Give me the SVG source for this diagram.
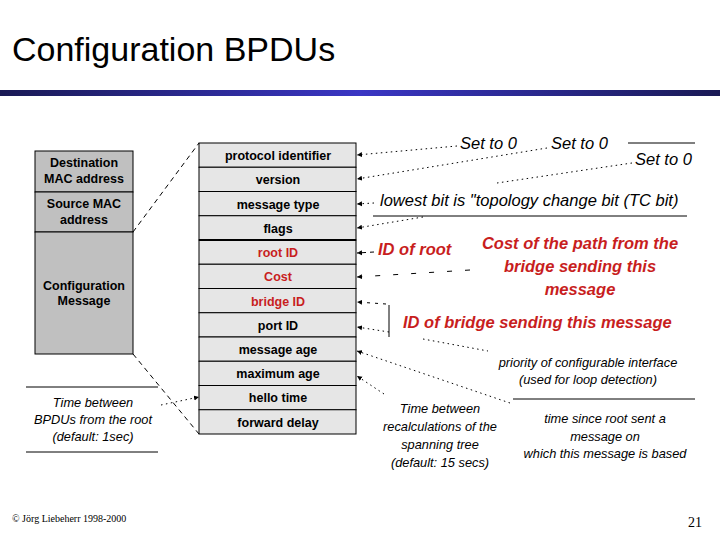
<svg xmlns="http://www.w3.org/2000/svg" width="720" height="540" viewBox="0 0 720 540">
<defs>
<linearGradient id="bar" x1="0" y1="0" x2="1" y2="0">
<stop offset="0" stop-color="#1a1a55"/>
<stop offset="0.5" stop-color="#3a36c4"/>
<stop offset="1" stop-color="#1a1a55"/>
</linearGradient>
<marker id="ah" markerWidth="6" markerHeight="6" refX="5" refY="3" orient="auto" markerUnits="userSpaceOnUse">
<path d="M0,0.5 L5,3 L0,5.5 Z" fill="#000"/>
</marker>
<style>
.t{font-family:"Liberation Sans",Arial,sans-serif;}
.title{font-size:34px;fill:#000;}
.bl{font-size:12.5px;font-weight:bold;fill:#000;text-anchor:middle;}
.red{fill:#c81e1e;}
.lg{fill:#c0c0c0;stroke:#000;stroke-width:1;}
.rg{fill:#e6e6e6;stroke:#000;stroke-width:1;}
.note{font-size:16.5px;font-style:italic;fill:#000;}
.rnote{font-size:16.5px;font-style:italic;font-weight:bold;fill:#c81e1e;}
.sm{font-size:12.8px;font-style:italic;fill:#000;text-anchor:middle;}
.rule{stroke:#000;stroke-width:1;}
.dot{fill:none;stroke:#000;stroke-width:1;stroke-dasharray:1.5 3.5;}
.dash{fill:none;stroke:#000;stroke-width:1;stroke-dasharray:5 4;}
.arr{marker-end:url(#ah);}
</style>
</defs>
<rect width="720" height="540" fill="#fff"/>
<text class="t title" x="12" y="61">Configuration BPDUs</text>
<rect x="0" y="90" width="720" height="6" fill="url(#bar)"/>

<g id="frame">
<g id="dest-mac"><rect class="lg" x="35" y="151" width="98" height="41"/><text class="t bl" x="84" y="167">Destination</text><text class="t bl" x="84" y="183">MAC address</text></g>
<g id="src-mac"><rect class="lg" x="35" y="192" width="98" height="40"/><text class="t bl" x="84" y="208">Source MAC</text><text class="t bl" x="84" y="224">address</text></g>
<g id="config-msg"><rect class="lg" x="35" y="232" width="98" height="122"/><text class="t bl" x="84" y="290">Configuration</text><text class="t bl" x="84" y="305">Message</text></g>
</g>

<g id="bpdu">
<g id="protocol-identifier"><rect class="rg" x="199" y="143" width="157" height="24.25"/><text class="t bl" x="278" y="160">protocol identifier</text></g>
<g id="version"><rect class="rg" x="199" y="167.25" width="157" height="24.25"/><text class="t bl" x="278" y="184">version</text></g>
<g id="message-type"><rect class="rg" x="199" y="191.5" width="157" height="24.25"/><text class="t bl" x="278" y="208.5">message type</text></g>
<g id="flags"><rect class="rg" x="199" y="215.75" width="157" height="24.25"/><text class="t bl" x="278" y="232.5">flags</text></g>
<g id="root-id"><rect class="rg" x="199" y="240" width="157" height="24.25"/><text class="t bl red" x="278" y="257">root ID</text></g>
<g id="cost"><rect class="rg" x="199" y="264.25" width="157" height="24.25"/><text class="t bl red" x="278" y="281">Cost</text></g>
<g id="bridge-id"><rect class="rg" x="199" y="288.5" width="157" height="24.25"/><text class="t bl red" x="278" y="305.5">bridge ID</text></g>
<g id="port-id"><rect class="rg" x="199" y="312.75" width="157" height="24.25"/><text class="t bl" x="278" y="329.5">port ID</text></g>
<g id="message-age"><rect class="rg" x="199" y="337" width="157" height="24.25"/><text class="t bl" x="278" y="354">message age</text></g>
<g id="maximum-age"><rect class="rg" x="199" y="361.25" width="157" height="24.25"/><text class="t bl" x="278" y="378">maximum age</text></g>
<g id="hello-time"><rect class="rg" x="199" y="385.5" width="157" height="24.25"/><text class="t bl" x="278" y="402">hello time</text></g>
<g id="forward-delay"><rect class="rg" x="199" y="409.75" width="157" height="24.25"/><text class="t bl" x="278" y="426.5">forward delay</text></g>
<line x1="199" y1="240" x2="356" y2="240" stroke="#000" stroke-width="2"/>
</g>

<g id="notes">
<g id="note-hello"><line class="rule" x1="26" y1="387" x2="158" y2="387"/><line class="rule" x1="26" y1="452" x2="158" y2="452"/>
<text class="t sm" x="93" y="407">Time between</text><text class="t sm" x="93" y="424">BPDUs from the root</text><text class="t sm" x="93" y="441">(default: 1sec)</text></g>
<g id="note-set0-a"><text class="t note" x="460" y="149">Set to 0</text></g>
<g id="note-set0-b"><text class="t note" x="551" y="149">Set to 0</text></g>
<g id="note-set0-c"><line class="rule" x1="628" y1="143" x2="695" y2="143"/><text class="t note" x="635" y="165">Set to 0</text></g>
<g id="note-tc"><text class="t note" x="380" y="206">lowest bit is "topology change bit (TC bit)</text><line class="rule" x1="373" y1="216" x2="687" y2="216"/></g>
<g id="note-rootid"><text class="t rnote" x="378" y="255">ID of root</text></g>
<g id="note-cost"><text class="t rnote" x="580" y="249" text-anchor="middle">Cost of the path from the</text><text class="t rnote" x="580" y="272" text-anchor="middle">bridge sending this</text><text class="t rnote" x="580" y="295" text-anchor="middle">message</text></g>
<g id="note-bridge"><line class="rule" x1="389" y1="305" x2="389" y2="337"/><text class="t rnote" x="403" y="328">ID of bridge sending this message</text></g>
<g id="note-priority"><text class="t sm" x="588" y="367">priority of configurable interface</text><text class="t sm" x="588" y="384">(used for loop detection)</text><line class="rule" x1="513" y1="399" x2="695" y2="399"/></g>
<g id="note-msgage"><text class="t sm" x="605" y="423">time since root sent a</text><text class="t sm" x="605" y="441">message on</text><text class="t sm" x="605" y="458">which this message is based</text></g>
<g id="note-fwd"><text class="t sm" x="440" y="413">Time between</text><text class="t sm" x="440" y="431">recalculations of the</text><text class="t sm" x="440" y="449">spanning tree</text><text class="t sm" x="440" y="467">(default: 15 secs)</text></g>
</g>

<g id="connectors">
<line class="dash" x1="133" y1="232" x2="199" y2="143"/>
<line class="dash" x1="133" y1="354" x2="199" y2="434"/>
<line class="dot arr" x1="161" y1="405" x2="199" y2="397"/>
<line class="dot arr" x1="457" y1="146" x2="357" y2="155"/>
<line class="dot arr" x1="547" y1="148" x2="357" y2="179"/>
<line class="dot" x1="632" y1="163" x2="497" y2="183"/>
<line class="dot arr" x1="374" y1="203" x2="357" y2="204"/>
<line class="dot arr" x1="423" y1="217" x2="357" y2="228"/>
<line class="dash arr" x1="374" y1="252" x2="357" y2="253" style="stroke-dasharray:4 4"/>
<line class="dash arr" x1="470" y1="270" x2="357" y2="277" style="stroke-dasharray:5 13"/>
<line class="dash arr" x1="386" y1="304" x2="357" y2="302" style="stroke-dasharray:3 5"/>
<line class="dot arr" x1="389" y1="332" x2="357" y2="327"/>
<line class="dot" x1="423" y1="339" x2="488" y2="351"/>
<line class="dot arr" x1="510" y1="403" x2="357" y2="351"/>
<line class="dot arr" x1="384" y1="394" x2="357" y2="376"/>
</g>

<text class="t" x="12" y="522" style="font-family:'Liberation Serif',serif;font-size:10px">© Jörg Liebeherr 1998-2000</text>
<text class="t" x="688" y="527" style="font-family:'Liberation Serif',serif;font-size:14px">21</text>
</svg>
